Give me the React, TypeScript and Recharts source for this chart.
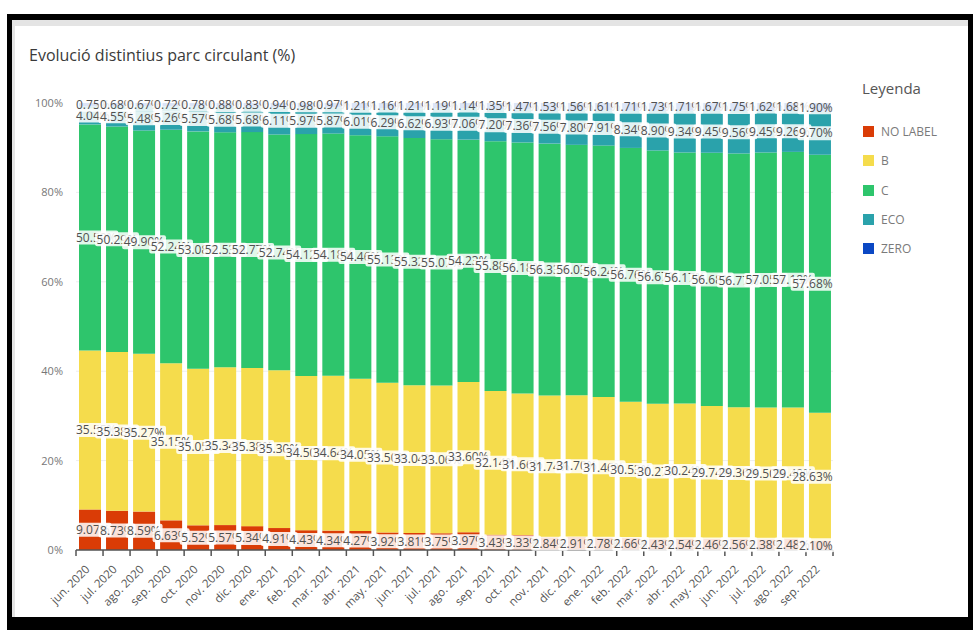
import { BarChart, Bar, XAxis, YAxis, CartesianGrid, LabelList } from "recharts";

const MONTHS = [
  "jun. 2020", "jul. 2020", "ago. 2020", "sep. 2020", "oct. 2020", "nov. 2020", "dic. 2020",
  "ene. 2021", "feb. 2021", "mar. 2021", "abr. 2021", "may. 2021", "jun. 2021", "jul. 2021",
  "ago. 2021", "sep. 2021", "oct. 2021", "nov. 2021", "dic. 2021", "ene. 2022", "feb. 2022",
  "mar. 2022", "abr. 2022", "may. 2022", "jun. 2022", "jul. 2022", "ago. 2022", "sep. 2022",
];

const NO_LABEL = [9.07, 8.73, 8.59, 6.63, 5.52, 5.57, 5.34, 4.91, 4.43, 4.34, 4.27, 3.92, 3.81, 3.75, 3.97, 3.43, 3.33, 2.84, 2.91, 2.78, 2.66, 2.43, 2.54, 2.46, 2.56, 2.38, 2.48, 2.10];
const B = [35.55, 35.38, 35.27, 35.15, 35.05, 35.34, 35.38, 35.30, 34.50, 34.64, 34.05, 33.50, 33.04, 33.06, 33.60, 32.14, 31.66, 31.74, 31.70, 31.46, 30.53, 30.27, 30.24, 29.74, 29.36, 29.50, 29.40, 28.63];
const C = [50.59, 50.29, 49.90, 52.24, 53.08, 52.53, 52.77, 52.74, 54.12, 54.18, 54.46, 55.13, 55.32, 55.07, 54.23, 55.88, 56.18, 56.33, 56.03, 56.24, 56.76, 56.67, 56.17, 56.68, 56.77, 57.05, 57.18, 57.68];
const ECO = [4.04, 4.55, 5.48, 5.26, 5.57, 5.68, 5.68, 6.11, 5.97, 5.87, 6.01, 6.29, 6.62, 6.93, 7.06, 7.20, 7.36, 7.56, 7.80, 7.91, 8.34, 8.90, 9.34, 9.45, 9.56, 9.45, 9.26, 9.70];
const ZERO = [0.75, 0.68, 0.67, 0.72, 0.78, 0.88, 0.83, 0.94, 0.98, 0.97, 1.21, 1.16, 1.21, 1.19, 1.14, 1.35, 1.47, 1.53, 1.56, 1.61, 1.71, 1.73, 1.71, 1.67, 1.75, 1.62, 1.68, 1.90];

const Y_TICKS = [0, 0.2, 0.4, 0.6, 0.8, 1];

const SERIES = [
  { key: "noLabel", name: "NO LABEL", color: "#da3c06", values: NO_LABEL },
  { key: "b", name: "B", color: "#f5dc4c", values: B },
  { key: "c", name: "C", color: "#2ec56c", values: C },
  { key: "eco", name: "ECO", color: "#2aa2ab", values: ECO },
  { key: "zero", name: "ZERO", color: "#0b48c4", values: ZERO },
];

const data = MONTHS.map((m, i) => ({
  month: m,
  noLabel: NO_LABEL[i],
  b: B[i],
  c: C[i],
  eco: ECO[i],
  zero: ZERO[i],
}));

const FONT = "'Open Sans', 'Noto Sans', sans-serif";
const PLOT_LEFT = 76;
const PLOT_RIGHT = 833;
const PITCH = (PLOT_RIGHT - PLOT_LEFT) / MONTHS.length;

// rough width of a label at 12px Open Sans
const textWidth = (s: string) =>
  s.split("").reduce((w, ch) => w + (ch === "." ? 3.2 : ch === "%" ? 10.2 : 6.86), 0);

// ─── Segment label with white box; later labels cover earlier ones ───────────
const makeLabel = (vals: number[]) => (props: any) => {
  const { x, y, width, height, index } = props;
  const v = vals[index];
  if (v == null) return null;
  const text = v.toFixed(2) + "%";
  const w = textWidth(text);
  const cx = Number(x) + Number(width) / 2;
  const left = Math.max(PLOT_LEFT, Math.min(PLOT_RIGHT - w, cx - w / 2));
  const cy = Number(y) + Number(height) / 2;
  return (
    <g>
      <rect x={left - 1.5} y={cy - 7} width={w + 3} height={14} rx={2} fill="#ffffff" fillOpacity={0.86} />
      <text x={left} y={cy} dy="0.36em" fontSize={12} fill="#505050" fontFamily={FONT}>
        {text}
      </text>
    </g>
  );
};

// ─── X tick: tick marks at band edges, rotated label ──────────────────────────
const XTick = (props: any) => {
  const { x, y, payload, index } = props;
  const isLast = index === MONTHS.length - 1;
  const tx = x + 1;
  const ty = y + 20;
  return (
    <g>
      <line x1={x - PITCH / 2} x2={x - PITCH / 2} y1={y} y2={y + 6} stroke="#555" strokeWidth={1.5} />
      {isLast && (
        <line x1={x + PITCH / 2} x2={x + PITCH / 2} y1={y} y2={y + 6} stroke="#555" strokeWidth={1.5} />
      )}
      <text
        x={tx}
        y={ty}
        textAnchor="end"
        fontSize={11.5}
        fill="#555"
        fontFamily={FONT}
        transform={`rotate(-45, ${tx}, ${ty})`}
      >
        {payload.value}
      </text>
    </g>
  );
};

export default function App() {
  return (
    <div style={{ position: "absolute", left: 0, top: 0, width: 973, height: 630, background: "#fff", overflow: "hidden" }}>
      {/* black frame */}
      <div
        style={{
          position: "absolute", left: 7, top: 14, width: 966, height: 616, boxSizing: "border-box",
          borderStyle: "solid", borderColor: "#000", borderWidth: "6px 5px 13px 5px",
        }}
      />
      {/* light panel edge */}
      <div
        style={{
          position: "absolute", left: 12, top: 20, width: 956, height: 597, boxSizing: "border-box",
          borderStyle: "solid", borderColor: "#e4e4e4", borderWidth: "6px 0 0 3px",
        }}
      />

      <div style={{ position: "absolute", left: 0, top: 0 }}>
        <BarChart
          width={973}
          height={630}
          data={data}
          stackOffset="expand"
          margin={{ top: 103, right: 140, left: 0, bottom: 0 }}
        >
          <CartesianGrid vertical={false} stroke="#ededed" />
          <XAxis
            dataKey="month"
            interval={0}
            height={80}
            tickSize={0}
            tickMargin={0}
            tickLine={false}
            axisLine={{ stroke: "#555", strokeWidth: 1.5 }}
            tick={<XTick />}
          />
          <YAxis
            width={76}
            domain={[0, 1]}
            ticks={Y_TICKS}
            tickFormatter={(v: number) => `${Math.round(v * 100)}%`}
            axisLine={false}
            tickLine={false}
            tickSize={0}
            tickMargin={13}
            tick={{ fontSize: 11, fill: "#777", fontFamily: FONT }}
          />
          {SERIES.map((s) => (
            <Bar key={s.key} dataKey={s.key} stackId="a" fill={s.color} barSize={22} isAnimationActive={false}>
              <LabelList dataKey={s.key} content={makeLabel(s.values)} />
            </Bar>
          ))}
        </BarChart>
      </div>

      {/* title */}
      <div style={{ position: "absolute", left: 29, top: 44, fontFamily: FONT, fontSize: 16, color: "#3a3a3a" }}>
        Evolució distintius parc circulant (%)
      </div>

      {/* legend */}
      <div style={{ position: "absolute", left: 862, top: 78, fontFamily: FONT, fontSize: 15, color: "#555" }}>
        Leyenda
      </div>
      {SERIES.map((s, i) => (
        <div
          key={s.key}
          style={{
            position: "absolute", left: 863, top: 123 + i * 29.3, display: "flex", alignItems: "center",
            fontFamily: FONT, fontSize: 12, color: "#7a7a7a",
          }}
        >
          <span style={{ width: 11, height: 11, background: s.color, display: "inline-block", marginRight: 7 }} />
          {s.name}
        </div>
      ))}
    </div>
  );
}
